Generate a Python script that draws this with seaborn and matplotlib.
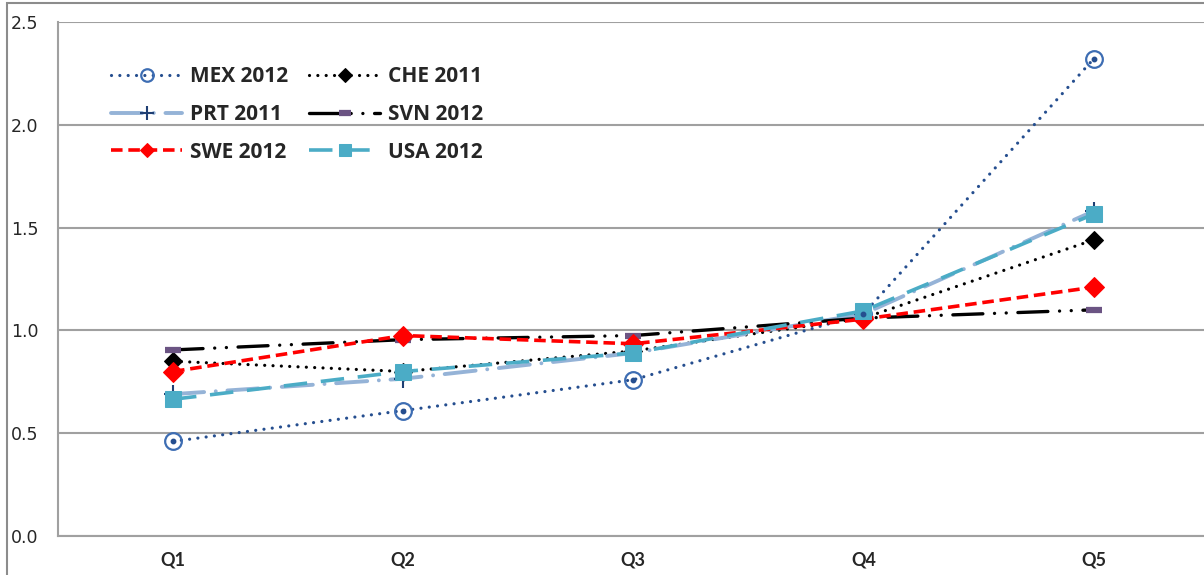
import matplotlib
matplotlib.use("Agg")
import matplotlib.pyplot as plt
import seaborn as sns
import pandas as pd
from matplotlib.patches import Rectangle

quintiles = ["Q1", "Q2", "Q3", "Q4", "Q5"]
mex_2012 = [0.46, 0.61, 0.76, 1.08, 2.32]
che_2011 = [0.85, 0.80, 0.90, 1.06, 1.44]
prt_2011 = [0.69, 0.765, 0.89, 1.08, 1.58]
svn_2012 = [0.905, 0.955, 0.975, 1.06, 1.10]
swe_2012 = [0.80, 0.975, 0.935, 1.055, 1.21]
usa_2012 = [0.665, 0.80, 0.89, 1.095, 1.565]

sns.set_style("white")
plt.rcParams["font.family"] = ["DejaVu Sans"]

fig = plt.figure(figsize=(12.04, 5.75), dpi=100)
ax = fig.add_axes([58/1204, 1-536/575, 1-58/1204, (536-22)/575])

# outer chart frame
fig.patches.append(Rectangle((7/1204, -0.1), 1.2, 1-3/575+0.1, transform=fig.transFigure,
                             fill=False, edgecolor="#8c8c8c", lw=1.5))

def draw(vals, label, **kw):
    df = pd.DataFrame({"q": quintiles, "v": vals})
    sns.lineplot(data=df, x="q", y="v", ax=ax, label=label, sort=False, **kw)

draw(mex_2012, "MEX 2012", color="#254E8F", lw=2.3, linestyle=(0, (0.01, 2.6)),
     dash_capstyle="round", marker="o", ms=12, mfc="none", mec="#3D6DB3", mew=1.6)
draw(che_2011, "CHE 2011", color="black", lw=2.3, linestyle=(0, (0.01, 2.6)),
     dash_capstyle="round", marker="D", ms=9, mfc="black", mec="black")
draw(prt_2011, "PRT 2011", color="#95B3D7", lw=2.8, linestyle=(0, (8, 3, 0.01, 3)),
     dash_capstyle="round", marker="+", ms=13, mec="#1F3F73", mew=1.5)
draw(svn_2012, "SVN 2012", color="black", lw=2.4, linestyle=(0, (9, 3.5, 0.01, 3.5, 0.01, 3.5)),
     dash_capstyle="round", marker="_", ms=12, mec="#6B5483", mew=4.5)
draw(swe_2012, "SWE 2012", color="#FF0000", lw=2.6, linestyle=(0, (3.2, 1.6)),
     marker="D", ms=10, mfc="#FF0000", mec="#FF0000")
draw(usa_2012, "USA 2012", color="#4BACC6", lw=2.6, linestyle=(0, (6.5, 3.8)),
     marker="s", ms=11, mfc="#4BACC6", mec="#4BACC6")

# MEX centre dots
ax.plot(range(5), mex_2012, linestyle="none", marker="o", ms=3.2, color="#254E8F")

ax.set_xlim(-0.5, 4.48)
ax.set_ylim(0, 2.5)
ax.set_yticks([0, 0.5, 1.0, 1.5, 2.0, 2.5])
ax.set_yticklabels(["0.0", "0.5", "1.0", "1.5", "2.0", "2.5"])
ax.yaxis.grid(True, color="#a0a0a0", lw=1.5)
ax.set_axisbelow(True)

ax.set_xticks([-0.5, 0.5, 1.5, 2.5, 3.5])
ax.set_xticklabels([])
ax.set_xticks(range(5), minor=True)
ax.set_xticklabels(quintiles, minor=True, fontsize=13, fontweight="bold", family="Lato")
ax.tick_params(axis="x", which="major", length=6, width=1.3, color="#a0a0a0", direction="out")
ax.tick_params(axis="x", which="minor", length=0, pad=11)
ax.tick_params(axis="y", length=8, width=1.3, color="#a0a0a0", direction="out",
               labelsize=12.5, pad=6)
ax.set_xlabel("")
ax.set_ylabel("")

for s in ["top", "right"]:
    ax.spines[s].set_visible(False)
for s in ["left", "bottom"]:
    ax.spines[s].set_color("#a0a0a0")
    ax.spines[s].set_linewidth(1.5)

# legend fills by row in the reference: reorder for column-wise filling
handles, labels = ax.get_legend_handles_labels()
order = [0, 2, 4, 1, 3, 5]
leg = ax.legend([handles[i] for i in order], [labels[i] for i in order],
                ncol=2, frameon=False, loc="upper left", bbox_to_anchor=(0.03, 0.95),
                handlelength=3.4, labelspacing=0.8, columnspacing=1.0, handletextpad=0.4,
                markerscale=0.75,
                prop={"family": "Open Sans", "weight": "bold", "size": 15})

fig.savefig("out.png", dpi=100)
